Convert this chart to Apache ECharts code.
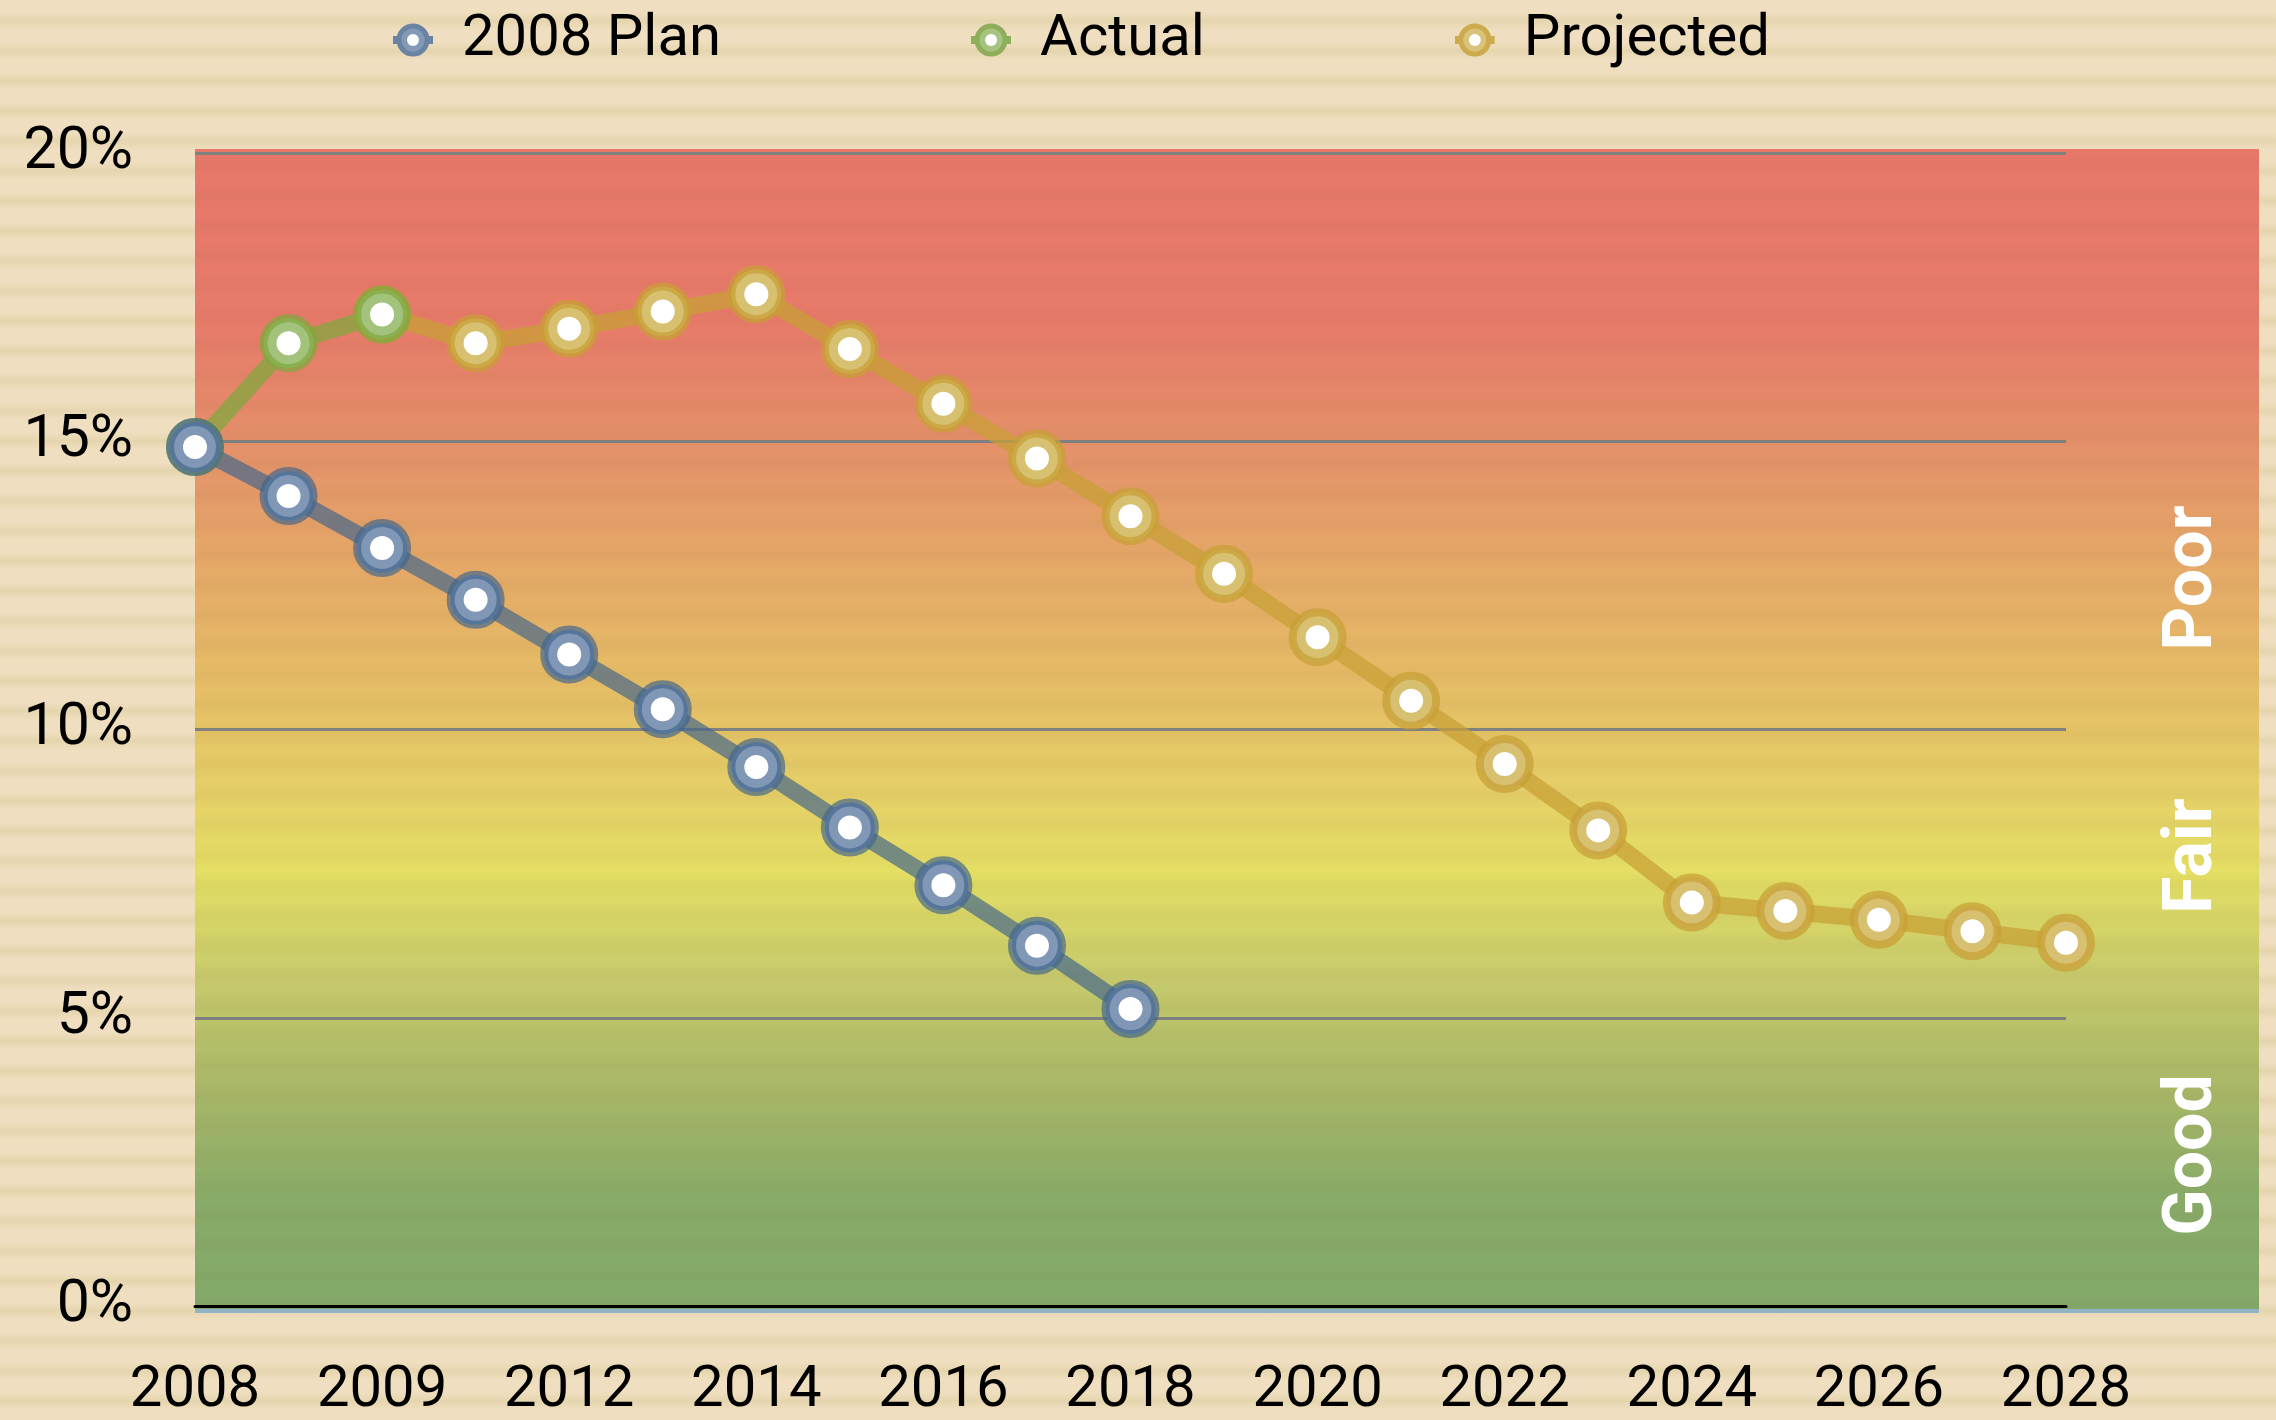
<!DOCTYPE html>
<html>
<head>
<meta charset="utf-8">
<script src="https://cdn.jsdelivr.net/npm/echarts@6/dist/echarts.min.js"></script>
<style>
  html, body {
    margin: 0;
    padding: 0;
    background-color: #efdfc0;
    background-image: repeating-linear-gradient(to bottom, #efdfc0 0px, #efdfc0 12px, #e5d5ae 21px, #efdfc0 30px);
  }
  #chart { width: 2276px; height: 1420px; }
</style>
</head>
<body>
<div id="chart"></div>
<script>
  // x categories, only every other one is labelled
  const years = ["2008", "2008.5", "2009", "2011", "2012", "2013", "2014", "2015", "2016", "2017", "2018",
    "2019", "2020", "2021", "2022", "2023", "2024", "2025", "2026", "2027", "2028"]
  const planValues = [14.9, 14.05, 13.15, 12.25, 11.3, 10.35, 9.35, 8.3, 7.3, 6.25, 5.15]
  const actualValues = [14.9, 16.7, 17.2]
  const projectedValues = ["-", "-", 17.2, 16.7, 16.95, 17.25, 17.55, 16.6, 15.65, 14.7, 13.7,
    12.7, 11.6, 10.5, 9.4, 8.25, 7.0, 6.85, 6.7, 6.5, 6.3]
  const bandLabels = ["Poor", "Fair", "Good"]

  const font = "Roboto"

  // faint horizontal stripes over the colour band
  const stripe = document.createElement("canvas")
  stripe.width = 4
  stripe.height = 30
  const sctx = stripe.getContext("2d")
  const sg = sctx.createLinearGradient(0, 0, 0, 30)
  sg.addColorStop(0, "rgba(120,70,40,0)")
  sg.addColorStop(0.5, "rgba(120,70,40,0.05)")
  sg.addColorStop(1, "rgba(120,70,40,0)")
  sctx.fillStyle = sg
  sctx.fillRect(0, 0, 4, 30)

  // ring marker: light fill + translucent dark border, then a white dot on top
  function lineSeries(name, data, dark, light) {
    return [
      {
        name: name,
        type: "line",
        data: data,
        showAllSymbol: true,
        symbol: "circle",
        symbolSize: 50,
        lineStyle: { color: dark, width: 17 },
        itemStyle: { color: light, borderColor: dark, borderWidth: 8 },
        emphasis: { disabled: true },
      },
      {
        name: name,
        type: "line",
        data: data,
        showAllSymbol: true,
        symbol: "circle",
        symbolSize: 24,
        silent: true,
        lineStyle: { width: 0, opacity: 0 },
        itemStyle: { color: "#ffffff" },
        emphasis: { disabled: true },
      },
    ]
  }

  // legend icon: short line with a ring and white centre
  function legendIcon(dark, light) {
    const svg = '<svg xmlns="http://www.w3.org/2000/svg" width="40" height="34" viewBox="0 0 40 34">' +
      '<rect x="0" y="13" width="40" height="8" fill="' + dark + '"/>' +
      '<circle cx="20" cy="17" r="14" fill="' + light + '" stroke="' + dark + '" stroke-width="5"/>' +
      '<circle cx="20" cy="17" r="6" fill="#ffffff"/></svg>'
    return "image://data:image/svg+xml;charset=utf-8," + encodeURIComponent(svg)
  }

  const chart = echarts.init(document.getElementById("chart"))
  const option = {
    animation: false,
    backgroundColor: "transparent",
    textStyle: { fontFamily: font },
    legend: {
      data: [
        { name: "2008 Plan", icon: legendIcon("#6b83a3", "#8399b8") },
        { name: "Actual", icon: legendIcon("#8fae5c", "#a6c480") },
        { name: "Projected", icon: legendIcon("#cdaa4c", "#d9c27a") },
      ],
      left: 388,
      top: 6,
      itemGap: 250,
      itemWidth: 40,
      itemHeight: 34,
      textStyle: { fontSize: 58, color: "#000", fontFamily: font, padding: [0, 0, 0, 24] },
    },
    grid: { left: 195, right: 210, top: 153, bottom: 104 },
    xAxis: {
      type: "category",
      data: years,
      boundaryGap: false,
      axisLine: { lineStyle: { color: "#000", width: 3 } },
      axisTick: { show: false },
      axisLabel: { interval: 1, fontSize: 58, color: "#000", margin: 56, fontFamily: font },
      splitLine: { show: false },
    },
    yAxis: {
      type: "value",
      min: 0,
      max: 20,
      interval: 5,
      axisLine: { show: false },
      axisTick: { show: false },
      axisLabel: { formatter: "{value}%", fontSize: 59, color: "#000", margin: 62, fontFamily: font },
      splitLine: { lineStyle: { color: "#808080", width: 3 } },
    },
    graphic: [
      {
        type: "rect",
        z: -10,
        shape: { x: 195, y: 149, width: 2064, height: 1164 },
        style: {
          fill: new echarts.graphic.LinearGradient(0, 0, 0, 1, [
            { offset: 0, color: "#e8786a" },
            { offset: 0.15, color: "#e87b6a" },
            { offset: 0.25, color: "#e5906a" },
            { offset: 0.35, color: "#e6a868" },
            { offset: 0.45, color: "#e6bc66" },
            { offset: 0.55, color: "#e6d068" },
            { offset: 0.62, color: "#e5e064" },
            { offset: 0.71, color: "#c8cc6c" },
            { offset: 0.81, color: "#a8b868" },
            { offset: 0.9, color: "#88ac68" },
            { offset: 1, color: "#82aa6a" },
          ]),
        },
      },
      {
        type: "rect",
        z: -9,
        shape: { x: 195, y: 149, width: 2064, height: 1164 },
        style: { fill: { image: stripe, repeat: "repeat" } },
      },
      {
        type: "rect",
        z: -8,
        shape: { x: 195, y: 1309, width: 2064, height: 4 },
        style: { fill: "#92b2c6" },
      },
      {
        type: "text",
        x: 2194, y: 578, rotation: Math.PI / 2, z: 5,
        style: { text: bandLabels[0], fill: "#fff", font: "bold 68px Roboto", align: "center", verticalAlign: "middle" },
      },
      {
        type: "text",
        x: 2194, y: 856, rotation: Math.PI / 2, z: 5,
        style: { text: bandLabels[1], fill: "#fff", font: "bold 68px Roboto", align: "center", verticalAlign: "middle" },
      },
      {
        type: "text",
        x: 2194, y: 1155, rotation: Math.PI / 2, z: 5,
        style: { text: bandLabels[2], fill: "#fff", font: "bold 68px Roboto", align: "center", verticalAlign: "middle" },
      },
    ],
    // drawn back to front: projected, actual, plan
    series: [
      ...lineSeries("Projected", projectedValues, "rgba(200,159,53,0.72)", "#d7c070"),
      ...lineSeries("Actual", actualValues, "rgba(127,167,61,0.72)", "#a3c27c"),
      ...lineSeries("2008 Plan", planValues, "rgba(66,101,140,0.68)", "#8097b6"),
    ],
  }
  chart.setOption(option)
</script>
</body>
</html>
